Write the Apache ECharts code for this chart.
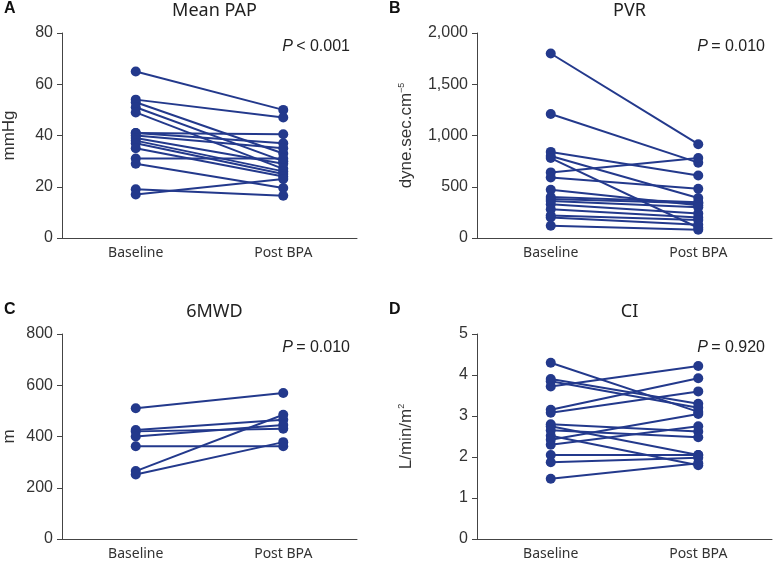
<!DOCTYPE html>
<html><head><meta charset="utf-8">
<script src="https://cdn.jsdelivr.net/npm/echarts@6/dist/echarts.min.js"></script>
<style>html,body{margin:0;padding:0;background:#fff}#c{width:773px;height:563px}</style>
</head><body><div id="c"></div>
<script>
const categories = ['Baseline', 'Post BPA'];

const papBase = [65, 54, 53, 51, 49, 41, 41, 40, 39, 38, 37, 35, 31, 29, 19, 17];
const papPost = [50, 47, 33, 30, 27, 40.5, 37, 35, 29, 26, 25, 24, 31, 19.5, 16.5, 23];

const pvrBase = [1800, 1210, 840, 800, 780, 640, 590, 470, 400, 380, 360, 330, 280, 220, 200, 120];
const pvrPost = [915, 735, 610, 390, 100, 780, 480, 320, 350, 340, 300, 240, 200, 175, 130, 80];

const mwdBase = [510, 425, 420, 400, 362, 265, 252];
const mwdPost = [570, 465, 430, 445, 362, 485, 378];

const ciBase = [4.30, 3.90, 3.85, 3.72, 3.15, 3.08, 2.80, 2.75, 2.65, 2.52, 2.42, 2.30, 2.05, 1.87, 1.47];
const ciPost = [3.10, 3.30, 3.20, 4.22, 3.92, 3.60, 2.62, 2.05, 2.48, 1.80, 3.05, 2.75, 2.05, 1.98, 1.85];

const panels = [
  {letter:'A', title:'Mean PAP', yName:'mmHg', max:80, interval:20, p:'< 0.001', base:papBase, post:papPost,
   left:62, top:33, height:205, fmt:v=>String(v)},
  {letter:'B', title:'PVR', yName:'dyne.sec.cm{sup|−5}', max:2000, interval:500, p:'= 0.010', base:pvrBase, post:pvrPost,
   left:477, top:33, height:205, fmt:v=>v.toLocaleString('en-US')},
  {letter:'C', title:'6MWD', yName:'m', max:800, interval:200, p:'= 0.010', base:mwdBase, post:mwdPost,
   left:62, top:334, height:205, fmt:v=>String(v)},
  {letter:'D', title:'CI', yName:'L/min/m{sup|2}', max:5, interval:1, p:'= 0.920', base:ciBase, post:ciPost,
   left:477, top:334, height:205, fmt:v=>String(v)}
];

const COLOR = '#23398c';
const AXIS = '#444';
const W = 295;
const SANS = 'Liberation Sans, Arial, sans-serif';

const grids = [], xAxes = [], yAxes = [], series = [], titles = [], graphics = [];
panels.forEach((p, i) => {
  grids.push({left:p.left, top:p.top, width:W, height:p.height});
  xAxes.push({type:'category', gridIndex:i, data:categories, boundaryGap:true,
    axisLine:{lineStyle:{color:AXIS, width:1}},
    axisTick:{alignWithLabel:true, length:5, lineStyle:{color:AXIS}},
    axisLabel:{color:'#333', fontSize:14, fontFamily:'Noto Sans, sans-serif', margin:8},
    splitLine:{show:false}});
  yAxes.push({type:'value', gridIndex:i, min:0, max:p.max, interval:p.interval,
    name:p.yName, nameLocation:'middle', nameRotate:90, nameGap: (i%2===0)?44:62,
    nameTextStyle:{color:'#333', fontSize:17, fontFamily:SANS,
      rich:{sup:{fontSize:9, verticalAlign:'top', padding:[0,0,9,0], color:'#333', fontFamily:SANS}}},
    axisLine:{show:true, lineStyle:{color:AXIS, width:1}},
    axisTick:{show:true, length:5, lineStyle:{color:AXIS}},
    axisLabel:{color:'#333', fontSize:16, fontFamily:SANS, margin:9, formatter:p.fmt},
    splitLine:{show:false}});
  p.base.forEach((b, k) => {
    series.push({type:'line', xAxisIndex:i, yAxisIndex:i, data:[b, p.post[k]],
      symbol:'circle', symbolSize:10, showSymbol:true, animation:false,
      lineStyle:{color:COLOR, width:2}, itemStyle:{color:COLOR}, silent:true});
  });
  titles.push({text:p.title, left:p.left + W/2, top:p.top - 36, textAlign:'center',
    textStyle:{fontSize:18, fontWeight:'normal', color:'#222', fontFamily:'Noto Sans, sans-serif'}});
  graphics.push({type:'text', left:(i%2===0)?4:389, top:p.top - 32,
    style:{text:p.letter, font:'bold 16px Liberation Sans, Arial, sans-serif', fill:'#111'}});
  graphics.push({type:'text', right: 773 - (p.left + W - 7), top:p.top + 6,
    style:{rich:{i:{fontStyle:'italic', fontSize:16, fontFamily:SANS, fill:'#222'},
                 n:{fontSize:16, fontFamily:SANS, fill:'#222'}},
           text:'{i|P} {n|' + p.p + '}'}});
});

const chart = echarts.init(document.getElementById('c'), null, {renderer:'canvas'});
chart.setOption({animation:false, title:titles, grid:grids, xAxis:xAxes, yAxis:yAxes, series:series, graphic:graphics});
</script></body></html>
